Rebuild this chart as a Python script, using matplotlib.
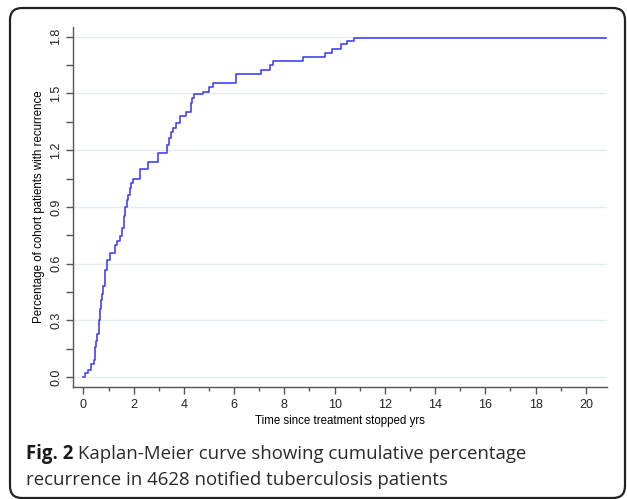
import matplotlib
matplotlib.use("Agg")
import matplotlib.pyplot as plt
from matplotlib.patches import FancyBboxPatch
from matplotlib.transforms import IdentityTransform
from matplotlib.ticker import MultipleLocator, FormatStrFormatter

# Kaplan-Meier step points (years, % with recurrence)
years = [0.0, 0.08, 0.2, 0.32, 0.41, 0.48, 0.52, 0.56, 0.62, 0.66, 0.69,
         0.74, 0.78, 0.84, 0.875, 0.94, 1.05, 1.26, 1.33, 1.46, 1.55, 1.6,
         1.66, 1.73, 1.79, 1.85, 1.9, 1.99, 2.26, 2.56, 2.97, 3.34, 3.42,
         3.49, 3.58, 3.69, 3.85, 4.07, 4.28, 4.31, 4.42, 4.78, 5.01, 5.15,
         6.08, 7.06, 7.43, 7.54, 8.75, 9.63, 9.88, 10.24, 10.5, 10.78, 20.8]
pct = [0.0, 0.02, 0.04, 0.07, 0.09, 0.16, 0.19, 0.23, 0.30, 0.36, 0.41,
       0.44, 0.48, 0.52, 0.566, 0.62, 0.655, 0.70, 0.72, 0.746, 0.79, 0.85,
       0.90, 0.936, 0.963, 1.0, 1.025, 1.05, 1.10, 1.14, 1.187, 1.228, 1.263,
       1.298, 1.316, 1.342, 1.381, 1.404, 1.45, 1.475, 1.497, 1.51, 1.533, 1.554,
       1.603, 1.624, 1.651, 1.672, 1.693, 1.714, 1.735, 1.76, 1.78, 1.795, 1.795]

caption_bold = "Fig. 2"
caption_rest = " Kaplan-Meier curve showing cumulative percentage"
caption_line2 = "recurrence in 4628 notified tuberculosis patients"

fig = plt.figure(figsize=(6.27, 4.99), dpi=100)
fig.patch.set_facecolor("white")

# rounded frame around the figure + caption (pixel coords)
frame = FancyBboxPatch((10, 1), 615, 490, boxstyle="round,pad=0,rounding_size=12",
                       transform=IdentityTransform(), facecolor="none",
                       edgecolor="#222222", linewidth=1.6)
fig.patches.append(frame)

ax = fig.add_axes([0.117, 0.225, 0.8506, 0.7215])
ax.step(years, pct, where="post", color="#4343f2", linewidth=1.2)

ax.set_xlim(-0.4, 20.83)
ax.set_ylim(-0.051, 1.853)
ax.xaxis.set_major_locator(MultipleLocator(2))
ax.xaxis.set_minor_locator(MultipleLocator(1))
ax.yaxis.set_major_locator(MultipleLocator(0.3))
ax.yaxis.set_minor_locator(MultipleLocator(0.15))
ax.yaxis.set_major_formatter(FormatStrFormatter("%.1f"))

ax.grid(axis="y", which="major", color="#e2ebf2", linewidth=1.0)
ax.set_axisbelow(True)
for s in ["top", "right"]:
    ax.spines[s].set_visible(False)
for s in ["left", "bottom"]:
    ax.spines[s].set_color("#555555")
    ax.spines[s].set_linewidth(1.0)

ax.tick_params(which="both", direction="out", color="#555555", width=1.0)
ax.tick_params(axis="x", which="major", length=5, labelsize=9, pad=4, labelcolor="#222222")
ax.tick_params(axis="x", which="minor", length=3)
ax.tick_params(axis="y", which="both", length=5, labelsize=9, pad=3, labelcolor="#222222")
for lab in ax.get_yticklabels():
    lab.set_rotation(90)
    lab.set_va("center")
for lab in ax.get_xticklabels() + ax.get_yticklabels():
    lab.set_fontfamily("Liberation Sans")

ax.set_xlabel("Time since treatment stopped yrs", fontsize=8.3,
              fontfamily="Liberation Sans", labelpad=3)
ax.set_ylabel("Percentage of cohort patients with recurrence", fontsize=8.3,
              fontfamily="Liberation Sans", labelpad=4)

t1 = fig.text(26 / 627, 1 - 454 / 499, caption_bold, fontsize=13.4, fontweight="bold",
              fontfamily="Open Sans", va="center", ha="left", color="#1a1a1a")
fig.canvas.draw()
bb = t1.get_window_extent()
fig.text(bb.x1 / 627, 1 - 454 / 499, caption_rest, fontsize=13.4,
         fontfamily="Open Sans", va="center", ha="left", color="#2a2a2a")
fig.text(26 / 627, 1 - 480 / 499, caption_line2, fontsize=13.4,
         fontfamily="Open Sans", va="center", ha="left", color="#2a2a2a")

fig.savefig("out.png", dpi=100)
